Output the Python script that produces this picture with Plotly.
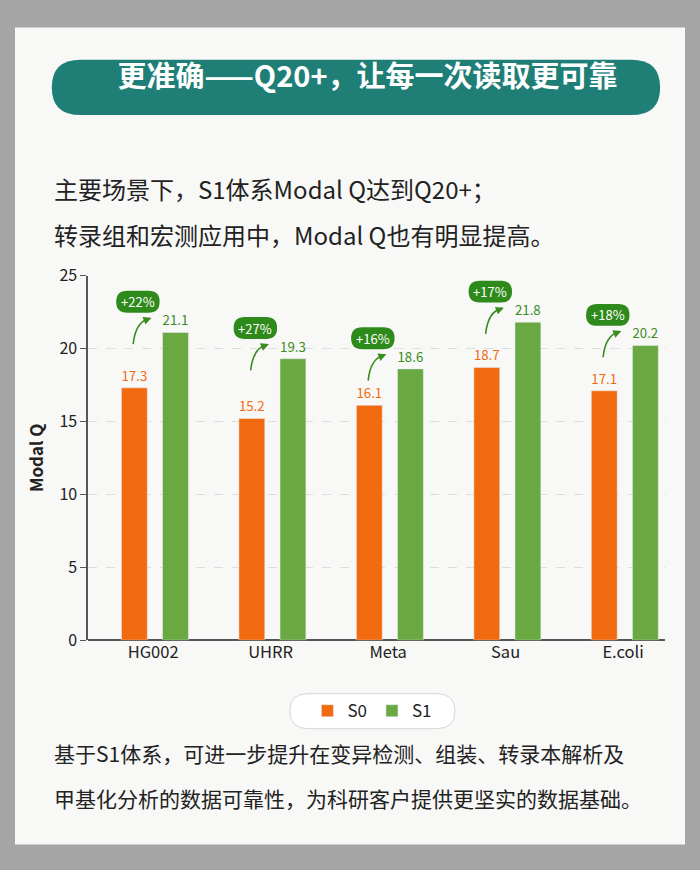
import plotly.graph_objects as go

categories = ["HG002", "UHRR", "Meta", "Sau", "E.coli"]
s0 = [17.3, 15.2, 16.1, 18.7, 17.1]
s1 = [21.1, 19.3, 18.6, 21.8, 20.2]
gains = ["+22%", "+27%", "+16%", "+17%", "+18%"]

ORANGE = "#f26a0f"
GREEN = "#6aa842"
DGREEN = "#3a8c1f"
PILL = "#2f8a1c"
FONT = "Noto Sans CJK SC"
H = 870.0
def fy(p):
    return 1 - p / H

fig = go.Figure()
fig.add_bar(x=categories, y=s0, name="S0", marker_color=ORANGE, width=0.22, offset=-0.27,
            text=[f"{v:.1f}" for v in s0], textposition="outside",
            textfont=dict(color=ORANGE, size=16, family=FONT), cliponaxis=False)
fig.add_bar(x=categories, y=s1, name="S1", marker_color=GREEN, width=0.22, offset=0.08,
            text=[f"{v:.1f}" for v in s1], textposition="outside",
            textfont=dict(color=DGREEN, size=16, family=FONT), cliponaxis=False)

ann = []
shapes = [
    dict(type="rect", xref="paper", yref="paper", x0=0.0, x1=1.0, y0=0.0, y1=1.0,
         fillcolor="#a5a5a5", line=dict(width=0), layer="below"),
    dict(type="rect", xref="paper", yref="paper", x0=0.0214, x1=0.9786, y0=fy(855), y1=fy(15),
         fillcolor="#f8f8f7", line=dict(width=0), layer="below"),
    dict(type="path", xref="paper", yref="paper", layer="below",
         path=(f"M 0.115 {fy(48)} L 0.902 {fy(48)} Q 0.943 {fy(48)} 0.943 {fy(76.5)} "
               f"Q 0.943 {fy(105)} 0.902 {fy(105)} L 0.115 {fy(105)} Q 0.074 {fy(105)} 0.074 {fy(76.5)} "
               f"Q 0.074 {fy(48)} 0.115 {fy(48)} Z"),
         fillcolor="#1f7f76", line=dict(width=0)),
    dict(type="path", xref="paper", yref="paper", layer="below",
         path=(f"M 0.44 {fy(700)} L 0.624 {fy(700)} Q 0.65 {fy(700)} 0.65 {fy(718)} "
               f"Q 0.65 {fy(736)} 0.624 {fy(736)} L 0.44 {fy(736)} Q 0.414 {fy(736)} 0.414 {fy(718)} "
               f"Q 0.414 {fy(700)} 0.44 {fy(700)} Z"),
         fillcolor="white", line=dict(color="#d5d5d5", width=1)),
]
for i, (c, g, v) in enumerate(zip(categories, gains, s1)):
    cx, cy = i - 0.13, v + 2.1
    hw, hh, r = 0.185, 0.75, 0.095
    xl, xr = cx - hw, cx + hw
    shapes.append(dict(type="path", xref="x", yref="y", layer="above",
        path=(f"M {xl+r} {cy+hh} L {xr-r} {cy+hh} Q {xr} {cy+hh} {xr} {cy} Q {xr} {cy-hh} {xr-r} {cy-hh} "
              f"L {xl+r} {cy-hh} Q {xl} {cy-hh} {xl} {cy} Q {xl} {cy+hh} {xl+r} {cy+hh} Z"),
        fillcolor=PILL, line=dict(width=0)))
    ann.append(dict(x=cx, y=cy, xref="x", yref="y", text=g, showarrow=False,
                    font=dict(color="white", size=13, family=FONT)))
    shapes.append(dict(type="path", xref="x", yref="y",
        path=f"M {i-0.17} {v-0.8} Q {i-0.15} {v+0.75} {i-0.03} {v+0.95}",
        line=dict(color=DGREEN, width=1.6)))
    ann.append(dict(x=i - 0.015, y=v + 1.0, xref="x", yref="y", text="", showarrow=True,
                    arrowhead=2, arrowsize=1, arrowwidth=1.6, arrowcolor=DGREEN,
                    ax=-5, ay=2, standoff=0))

ann += [
    dict(x=0.074, y=fy(160), xref="paper", yref="paper", text="主要场景下，S1体系Modal Q达到Q20+；",
         showarrow=False, xanchor="left", font=dict(color="#222", size=24, family=FONT)),
    dict(x=0.074, y=fy(208), xref="paper", yref="paper", text="转录组和宏测应用中，Modal Q也有明显提高。",
         showarrow=False, xanchor="left", font=dict(color="#222", size=24, family=FONT)),
    dict(x=0.074, y=fy(778), xref="paper", yref="paper", text="基于S1体系，可进一步提升在变异检测、组装、转录本解析及",
         showarrow=False, xanchor="left", font=dict(color="#222", size=21, family=FONT)),
    dict(x=0.074, y=fy(825), xref="paper", yref="paper", text="甲基化分析的数据可靠性，为科研客户提供更坚实的数据基础。",
         showarrow=False, xanchor="left", font=dict(color="#222", size=21, family=FONT)),
]

fig.update_layout(
    width=700, height=870, autosize=False,
    paper_bgcolor="rgba(0,0,0,0)", plot_bgcolor="rgba(0,0,0,0)",
    margin=dict(l=0, r=0, t=0, b=0), barmode="overlay",
    font=dict(family=FONT, color="#222"),
    title=dict(text="<b>更准确——Q20+，让每一次读取更可靠</b>", x=0.525, xanchor="center",
               y=fy(76.5), yanchor="middle", yref="container",
               font=dict(color="white", size=29, family=FONT)),
    xaxis=dict(domain=[0.126, 0.95], tickfont=dict(size=16.5), showline=False, ticks="",
               range=[-0.553, 4.357]),
    yaxis=dict(domain=[fy(645), fy(270)], range=[0, 25], dtick=5, tickfont=dict(size=16),
               showline=True, linecolor="#555", linewidth=1.5, ticks="outside", ticklen=6,
               tickcolor="#555", gridcolor="#dddddd", griddash="dash", zeroline=True,
               zerolinecolor="#555", zerolinewidth=1.5,
               title=dict(text="<b>Modal Q</b>", font=dict(size=17), standoff=12)),
    legend=dict(orientation="h", x=0.532, xanchor="center", y=fy(718), yanchor="middle",
                font=dict(size=17), bgcolor="rgba(0,0,0,0)", itemwidth=30),
    annotations=ann, shapes=shapes,
)
fig.write_html("out.html", config={"displayModeBar": False, "responsive": False})
with open("out.html", encoding="utf-8") as f:
    html = f.read()
css = ("<style>html,body{margin:0;padding:0;overflow:hidden;width:700px;height:870px;background:#a5a5a5}"
       ".plotly-graph-div{position:absolute;top:0;left:0}</style>")
html = html.replace("<head>", "<head>" + css, 1)
with open("out.html", "w", encoding="utf-8") as f:
    f.write(html)
